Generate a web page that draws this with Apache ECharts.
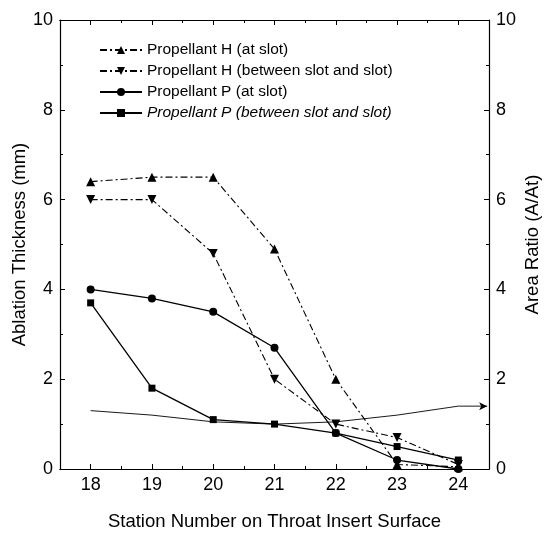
<!DOCTYPE html>
<html>
<head>
<meta charset="utf-8">
<script src="https://cdn.jsdelivr.net/npm/echarts@6/dist/echarts.min.js"></script>
<style>
html, body { margin: 0; padding: 0; background: #fff; }
#main { width: 547px; height: 533px; }
</style>
</head>
<body>
<div id="main"></div>
<script>
// stations on the throat insert
var stations = [18, 19, 20, 21, 22, 23, 24];
// ablation thickness (mm)
var hAtSlot = [6.4, 6.5, 6.5, 4.9, 2.0, 0.1, 0.05];
var hBetween = [6.0, 6.0, 4.8, 2.0, 1.0, 0.7, 0.1];
var pAtSlot = [4.0, 3.8, 3.5, 2.7, 0.8, 0.2, 0.0];
var pBetween = [3.7, 1.8, 1.1, 1.0, 0.8, 0.5, 0.2];
// area ratio (A/At), last point is the arrow towards the right axis
var areaX = [18, 19, 20, 21, 22, 23, 24, 24.47];
var areaRatio = [1.3, 1.2, 1.05, 1.0, 1.05, 1.2, 1.4, 1.4];

var majorX = [18, 19, 20, 21, 22, 23, 24];
var minorX = [18.5, 19.5, 20.5, 21.5, 22.5, 23.5];

var names = [
    'Propellant H (at slot)',
    'Propellant H (between slot and slot)',
    'Propellant P (at slot)',
    'Propellant P (between slot and slot)'
];

function pairs(xs, ys){
    var out = [];
    for(var i = 0; i < xs.length; i++){
        out.push([xs[i], ys[i]]);
    }
    return out;
}

var font = 'Liberation Sans, Arial, sans-serif';
var black = '#000';
var dashDot = [7, 3, 2, 3];

function xAx(pos, ticks, len, showLabel){
    return {
        type: 'value', position: pos, min: 17.5, max: 24.5,
        axisLine: { show: true, lineStyle: { color: black, width: 1.2 } },
        axisTick: { show: true, inside: true, length: len, customValues: ticks,
            lineStyle: { color: black, width: 1 } },
        axisLabel: { show: showLabel, customValues: majorX, color: black,
            fontFamily: font, fontSize: 18, margin: 7 },
        splitLine: { show: false }
    };
}

function yAx(pos){
    return {
        type: 'value', position: pos, min: 0, max: 10, interval: 2,
        axisLine: { show: true, lineStyle: { color: black, width: 1.2 } },
        axisTick: { show: true, inside: true, length: 5, lineStyle: { color: black } },
        minorTick: { show: true, splitNumber: 2, length: 3, lineStyle: { color: black } },
        axisLabel: { color: black, fontFamily: font, fontSize: 18, margin: 7 },
        splitLine: { show: false },
        nameLocation: 'middle',
        nameMoveOverlap: false,
        nameTextStyle: { color: black, fontFamily: font, fontSize: 18.5 }
    };
}

var chart = echarts.init(document.getElementById('main'));

var left = yAx('left');
left.name = 'Ablation Thickness (mm)';
left.nameGap = 31;
var right = yAx('right');
right.name = 'Area Ratio (A/At)';
right.nameGap = 34;

var bottom = xAx('bottom', majorX, 5, true);
bottom.name = 'Station Number on Throat Insert Surface';
bottom.nameLocation = 'middle';
bottom.nameMoveOverlap = false;
bottom.nameGap = 43;
bottom.nameTextStyle = { color: black, fontFamily: font, fontSize: 18.5 };

var option = {
    backgroundColor: '#fff',
    animation: false,
    grid: { left: 60, right: 58, top: 20, bottom: 64, outerBoundsMode: 'none', containLabel: false },
    legend: {
        orient: 'vertical', left: 94, top: 37,
        itemWidth: 42, itemHeight: 10, itemGap: 5,
        textStyle: { color: black, fontFamily: font, fontSize: 15.5 },
        data: [
            { name: names[0] }, { name: names[1] }, { name: names[2] },
            { name: names[3], textStyle: { fontStyle: 'italic' } }
        ]
    },
    xAxis: [
        bottom,
        xAx('bottom', minorX, 3, false),
        xAx('top', majorX, 5, false),
        xAx('top', minorX, 3, false)
    ],
    yAxis: [left, right],
    series: [
        {
            name: names[0], type: 'line', data: pairs(stations, hAtSlot),
            symbol: 'triangle', symbolSize: 9,
            itemStyle: { color: black },
            lineStyle: { color: black, width: 1.1, type: dashDot }
        },
        {
            name: names[1], type: 'line', data: pairs(stations, hBetween),
            symbol: 'triangle', symbolRotate: 180, symbolSize: 9,
            itemStyle: { color: black },
            lineStyle: { color: black, width: 1.1, type: dashDot }
        },
        {
            name: names[2], type: 'line', data: pairs(stations, pAtSlot),
            symbol: 'circle', symbolSize: 8,
            itemStyle: { color: black },
            lineStyle: { color: black, width: 1.3 }
        },
        {
            name: names[3], type: 'line', data: pairs(stations, pBetween),
            symbol: 'rect', symbolSize: 7,
            itemStyle: { color: black },
            lineStyle: { color: black, width: 1.3 }
        },
        {
            name: 'Area Ratio', type: 'line', yAxisIndex: 1,
            data: pairs(areaX, areaRatio).map(function(p, i){
                if(i === areaX.length - 1){
                    return { value: p, symbol: 'arrow', symbolSize: [6, 8], symbolRotate: -90 };
                }
                return { value: p, symbol: 'none' };
            }),
            itemStyle: { color: black },
            lineStyle: { color: black, width: 0.9 }
        }
    ]
};

chart.setOption(option);
</script>
</body>
</html>
